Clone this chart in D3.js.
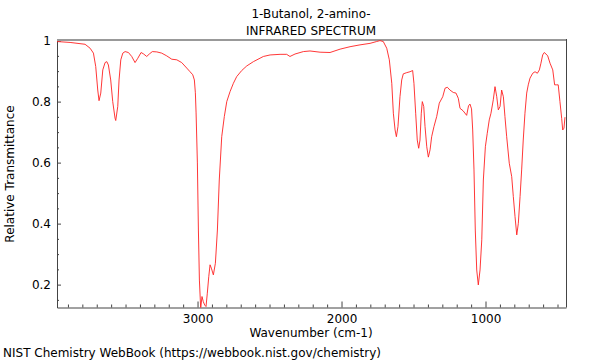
<!DOCTYPE html>
<html>
<head>
<meta charset="utf-8">
<script src="https://cdn.jsdelivr.net/npm/d3@7"></script>
<style>
  body { margin: 0; background: #fff; }
  text { font-family: "DejaVu Sans", sans-serif; font-size: 12px; fill: #000; }
</style>
</head>
<body>
<div id="chart"></div>
<script>
// spectrum: wavenumber (cm-1) and relative transmittance
var wavenumbers = [3978, 3885, 3781, 3746, 3723, 3707, 3693, 3684, 3672, 3658, 3642, 3630, 3619, 3603, 3589, 3573, 3568, 3554, 3545, 3533,
    3519, 3503, 3480, 3457, 3434, 3415, 3392, 3374, 3353, 3335, 3314, 3283, 3249, 3214, 3179, 3144, 3110, 3075, 3052, 3033,
    3022, 3015, 3010, 3001, 2994, 2987, 2978, 2969, 2960, 2950, 2941, 2932, 2922, 2913, 2904, 2890, 2876, 2862, 2849, 2832,
    2814, 2797, 2774, 2751, 2728, 2693, 2658, 2612, 2543, 2496, 2427, 2381, 2358, 2323, 2265, 2219, 2149, 2080, 2010, 1941,
    1872, 1802, 1756, 1733, 1710, 1686, 1668, 1651, 1640, 1628, 1619, 1608, 1594, 1582, 1571, 1547, 1524, 1506, 1497, 1485,
    1474, 1464, 1455, 1446, 1439, 1429, 1420, 1408, 1397, 1385, 1374, 1358, 1339, 1321, 1297, 1281, 1265, 1247, 1224, 1205,
    1189, 1177, 1156, 1131, 1118, 1108, 1097, 1089, 1080, 1071, 1061, 1050, 1038, 1026, 1015, 1001, 988, 974, 962, 946,
    934, 922, 911, 899, 888, 876, 865, 853, 835, 818, 807, 795, 783, 772, 760, 749, 738, 726, 714, 703,
    691, 672, 656, 640, 626, 615, 603, 592, 580, 568, 552, 533, 520, 506, 495, 483, 471, 464, 455, 448];
var transmittance = [0.997, 0.994, 0.988, 0.975, 0.959, 0.915, 0.838, 0.803, 0.828, 0.904, 0.928, 0.931, 0.920, 0.871, 0.800, 0.746, 0.738, 0.784, 0.871, 0.937,
    0.959, 0.964, 0.961, 0.948, 0.928, 0.942, 0.961, 0.956, 0.948, 0.956, 0.964, 0.963, 0.959, 0.950, 0.939, 0.937, 0.928, 0.910, 0.898, 0.888,
    0.871, 0.829, 0.763, 0.599, 0.379, 0.215, 0.122, 0.161, 0.144, 0.133, 0.128, 0.172, 0.226, 0.265, 0.254, 0.232, 0.270, 0.379, 0.543, 0.685,
    0.751, 0.800, 0.833, 0.860, 0.882, 0.902, 0.917, 0.931, 0.948, 0.953, 0.955, 0.955, 0.948, 0.956, 0.964, 0.966, 0.962, 0.961, 0.972, 0.980,
    0.986, 0.991, 0.997, 1.000, 0.997, 0.975, 0.937, 0.860, 0.762, 0.707, 0.685, 0.718, 0.816, 0.871, 0.891, 0.895, 0.898, 0.902, 0.860, 0.762,
    0.674, 0.647, 0.674, 0.762, 0.800, 0.784, 0.718, 0.652, 0.618, 0.642, 0.685, 0.718, 0.751, 0.795, 0.816, 0.844, 0.847, 0.838, 0.830, 0.828,
    0.811, 0.778, 0.770, 0.755, 0.786, 0.792, 0.776, 0.707, 0.576, 0.379, 0.248, 0.199, 0.248, 0.347, 0.543, 0.652, 0.696, 0.740, 0.762, 0.806,
    0.849, 0.816, 0.773, 0.784, 0.838, 0.816, 0.751, 0.685, 0.598, 0.554, 0.489, 0.423, 0.363, 0.401, 0.489, 0.576, 0.674, 0.762, 0.828, 0.855,
    0.877, 0.893, 0.898, 0.893, 0.904, 0.926, 0.953, 0.961, 0.956, 0.950, 0.926, 0.904, 0.855, 0.855, 0.855, 0.800, 0.745, 0.707, 0.713, 0.749];

var xTickValues = [3000, 2000, 1000];
var yTickValues = [0.2, 0.4, 0.6, 0.8, 1];

var titleLines = ["1-Butanol, 2-amino-", "INFRARED SPECTRUM"];
var xTitle = "Wavenumber (cm-1)";
var yTitle = "Relative Transmittance";
var credit = "NIST Chemistry WebBook (https://webbook.nist.gov/chemistry)";

var width = 600, height = 360;
var plotLeft = 57, plotRight = 566, plotTop = 40, plotBottom = 307.5;

var svg = d3.select("#chart")
    .append("svg")
    .attr("width", width)
    .attr("height", height);

var x = d3.scaleLinear()
    .domain([3976, 441])
    .range([plotLeft, plotRight]);

var y = d3.scaleLinear()
    .domain([0.125, 1.002])
    .range([plotBottom, plotTop]);

// minor ticks
var xMinor = d3.range(500, 4000, 100).filter(function (d) { return xTickValues.indexOf(d) < 0; });
var yMinor = d3.range(0.15, 1.0, 0.05).map(function (d) { return +d.toFixed(2); })
    .filter(function (d) { return Math.abs(d * 5 - Math.round(d * 5)) > 0.01; });

var xAxis = svg.append("g")
    .attr("transform", "translate(0," + plotBottom + ")")
    .call(d3.axisBottom(x).tickValues(xTickValues).tickSizeInner(-6).tickSizeOuter(0).tickPadding(7)
        .tickFormat(d3.format("d")));
xAxis.select(".domain").attr("stroke", "#444");
xAxis.selectAll(".tick line").attr("stroke", "#444");
xAxis.selectAll(".tick text").style("font-size", "12px");

svg.append("g")
    .attr("transform", "translate(0," + plotBottom + ")")
    .call(d3.axisBottom(x).tickValues(xMinor).tickSizeInner(-3).tickSizeOuter(0).tickFormat(""))
    .call(function (g) { g.select(".domain").remove(); g.selectAll("line").attr("stroke", "#444"); });

var yAxis = svg.append("g")
    .attr("transform", "translate(" + plotLeft + ",0)")
    .call(d3.axisLeft(y).tickValues(yTickValues).tickSizeInner(-4).tickSizeOuter(0).tickPadding(6)
        .tickFormat(function (d) { return d === 1 ? "1" : d3.format(".1f")(d); }));
yAxis.select(".domain").attr("stroke", "#444");
yAxis.selectAll(".tick line").attr("stroke", "#444");
yAxis.selectAll(".tick text").style("font-size", "12px");

svg.append("g")
    .attr("transform", "translate(" + plotLeft + ",0)")
    .call(d3.axisLeft(y).tickValues(yMinor).tickSizeInner(-2).tickSizeOuter(0).tickFormat(""))
    .call(function (g) { g.select(".domain").remove(); g.selectAll("line").attr("stroke", "#444"); });

// frame: grey top, dark right
svg.append("line")
    .attr("x1", plotLeft).attr("x2", plotRight)
    .attr("y1", plotTop).attr("y2", plotTop)
    .attr("stroke", "#999").attr("stroke-width", 2);
svg.append("line")
    .attr("x1", plotRight + 0.5).attr("x2", plotRight + 0.5)
    .attr("y1", plotTop - 1).attr("y2", plotBottom)
    .attr("stroke", "#444");

svg.append("clipPath")
    .attr("id", "plot-clip")
    .append("rect")
    .attr("x", plotLeft).attr("y", plotTop)
    .attr("width", plotRight - plotLeft).attr("height", plotBottom - plotTop);

var line = d3.line()
    .x(function (d, i) { return x(wavenumbers[i]); })
    .y(function (d) { return y(d); });

svg.append("path")
    .datum(transmittance)
    .attr("clip-path", "url(#plot-clip)")
    .attr("d", line)
    .attr("fill", "none")
    .attr("stroke", "#ff2020")
    .attr("stroke-width", 0.9);

svg.selectAll(".title")
    .data(titleLines)
    .enter().append("text")
    .attr("class", "title")
    .attr("x", 311)
    .attr("y", function (d, i) { return 18 + i * 17; })
    .attr("text-anchor", "middle")
    .text(function (d) { return d; });

svg.append("text")
    .attr("x", 311)
    .attr("y", 337)
    .attr("text-anchor", "middle")
    .text(xTitle);

svg.append("text")
    .attr("transform", "translate(14,174) rotate(-90)")
    .attr("text-anchor", "middle")
    .text(yTitle);

svg.append("text")
    .attr("x", 3)
    .attr("y", 357)
    .text(credit);
</script>
</body>
</html>
